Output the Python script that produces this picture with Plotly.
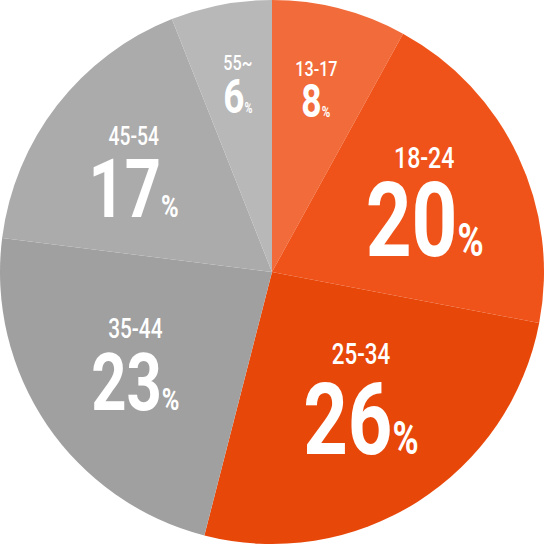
import numpy as np
import plotly.graph_objects as go

age_groups = ["13-17", "18-24", "25-34", "35-44", "45-54", "55~"]
shares = [8, 20, 26, 23, 17, 6]
slice_colors = ["#F26B3A", "#F05319", "#E8470A", "#A0A0A0", "#ABABAB", "#B8B8B8"]

# text styling per slice
label_px = [21, 30, 29, 27, 25, 21]
num_px = [46, 104, 101, 80, 82, 48]
pct_px = [15, 46, 46, 31, 31, 14]
text_radius = [0.71, 0.635, 0.53, 0.59, 0.63, 0.72]   # fraction of pie radius
text_dx = [-4, -4, 12, -4, -3, 3]                      # small nudges, px
text_dy = [0, 9, 7, 6, 4, 0]
line_gap = [32, 63, 66, 54, 53, 33]                    # label centre -> number centre, px

fig = go.Figure(go.Pie(
    labels=age_groups,
    values=shares,
    textinfo="none",
    sort=False,
    direction="clockwise",
    rotation=0,
    marker=dict(colors=slice_colors, line=dict(width=0)),
    hoverinfo="label+percent",
))

# slice mid-angles (clockwise from 12 o'clock)
vals = np.array(shares, dtype=float)
mid = (np.cumsum(vals) - vals / 2) / vals.sum() * 2 * np.pi

for i, g in enumerate(age_groups):
    x = 0.5 + 0.5 * text_radius[i] * np.sin(mid[i])
    y = 0.5 + 0.5 * text_radius[i] * np.cos(mid[i])
    common = dict(x=x, y=y, xref="paper", yref="paper", showarrow=False,
                  xanchor="center", yanchor="middle", xshift=text_dx[i])
    fig.add_annotation(
        **common, text=g, yshift=text_dy[i] + line_gap[i] / 2,
        font=dict(family="Roboto", size=label_px[i], color="white", weight=500),
    )
    fig.add_annotation(
        **common, text=f"{shares[i]}<span style='font-size:{pct_px[i]}px'>%</span>",
        yshift=text_dy[i] - line_gap[i] / 2,
        font=dict(family="Roboto", size=num_px[i], color="white", weight=700),
    )

fig.update_layout(
    width=544, height=544,
    margin={"r": 0, "t": 0, "l": 0, "b": 0},
    showlegend=False,
    paper_bgcolor="white",
)

# condensed look: squeeze each label horizontally around its own centre
css = (".annotation-text{transform-box:fill-box;transform-origin:center;"
       "transform:scaleX(0.77);}")
fig.write_html(
    "out.html",
    config={"displayModeBar": False},
    post_script=(
        "document.body.style.margin='0';"
        "var s=document.createElement('style');"
        f"s.textContent='{css}';"
        "document.head.appendChild(s);"
    ),
)
